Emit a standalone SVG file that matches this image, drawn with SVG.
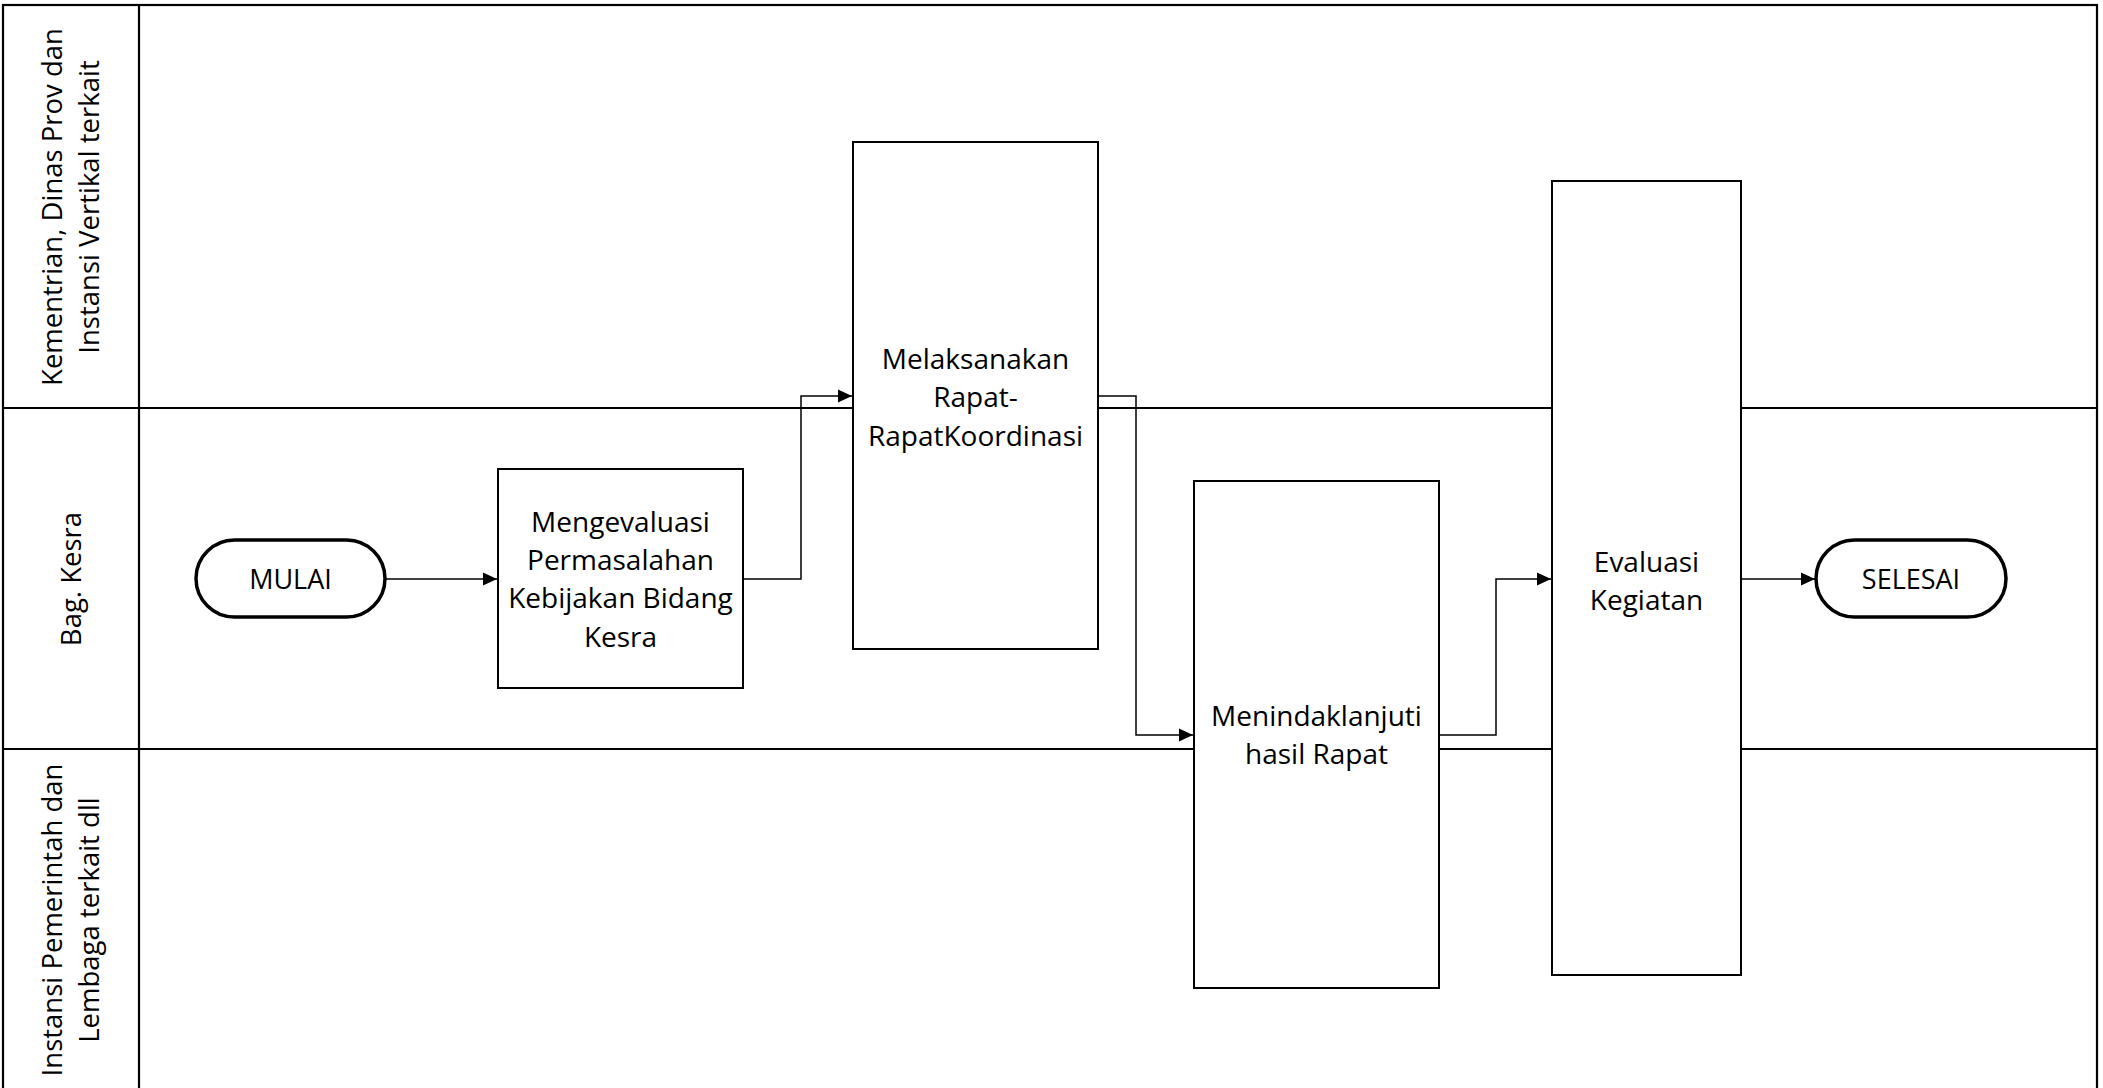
<svg xmlns="http://www.w3.org/2000/svg" width="2103" height="1088" viewBox="0 0 2103 1088">
<style>
.lane{fill:none;stroke:#000;stroke-width:2.2}
.box{fill:#fff;stroke:#000;stroke-width:2}
.term{fill:#fff;stroke:#000;stroke-width:3.5}
.t{font-family:"Open Sans","Liberation Sans",sans-serif;font-size:28px;fill:#000;text-anchor:middle}
.lt{font-family:"Open Sans","Liberation Sans",sans-serif;font-size:27.5px;fill:#000;text-anchor:middle}
.tt{font-family:"Open Sans","Liberation Sans",sans-serif;font-size:27px;fill:#000;text-anchor:middle}
.c{fill:none;stroke:#000;stroke-width:1.5}
</style>
<defs>
<marker id="arr" markerUnits="userSpaceOnUse" markerWidth="15" markerHeight="14" refX="14" refY="7" orient="auto">
<path d="M0,0.5 L14,7 L0,13.5 z" fill="#000"/>
</marker>
</defs>
<rect width="2103" height="1088" fill="#fff"/>
<g id="pool">
<rect class="lane" x="3" y="5" width="2094" height="1086"/>
<line class="lane" x1="139" y1="5" x2="139" y2="1091"/>
<line class="lane" x1="3" y1="408" x2="2097" y2="408"/>
<line class="lane" x1="3" y1="749" x2="2097" y2="749"/>
</g>
<g id="lane1">
<text class="lt" transform="translate(62,207) rotate(-90)">Kementrian, Dinas Prov dan</text>
<text class="lt" transform="translate(99,207) rotate(-90)">Instansi Vertikal terkait</text>
</g>
<g id="lane2">
<text class="lt" transform="translate(81,579) rotate(-90)">Bag. Kesra</text>
</g>
<g id="lane3">
<text class="lt" transform="translate(62,920) rotate(-90)">Instansi Pemerintah dan</text>
<text class="lt" transform="translate(99,920) rotate(-90)">Lembaga terkait dll</text>
</g>
<g id="connectors">
<path class="c" d="M385,579 H497" marker-end="url(#arr)"/>
<path class="c" d="M743,579 H801 V396 H852" marker-end="url(#arr)"/>
<path class="c" d="M1098,396 H1136 V735 H1193" marker-end="url(#arr)"/>
<path class="c" d="M1439,735 H1496 V579 H1551" marker-end="url(#arr)"/>
<path class="c" d="M1741,579 H1815" marker-end="url(#arr)"/>
</g>
<g id="mulai">
<rect class="term" x="196" y="540" width="189" height="77" rx="38.5"/>
<text class="tt" x="290.5" y="589">MULAI</text>
</g>
<g id="mengevaluasi">
<rect class="box" x="498" y="469" width="245" height="219"/>
<text class="t" x="620.5" y="532">Mengevaluasi</text>
<text class="t" x="620.5" y="570">Permasalahan</text>
<text class="t" x="620.5" y="608">Kebijakan Bidang</text>
<text class="t" x="620.5" y="647">Kesra</text>
</g>
<g id="melaksanakan">
<rect class="box" x="853" y="142" width="245" height="507"/>
<text class="t" x="975.5" y="369">Melaksanakan</text>
<text class="t" x="975.5" y="407">Rapat-</text>
<text class="t" x="975.5" y="446">RapatKoordinasi</text>
</g>
<g id="menindaklanjuti">
<rect class="box" x="1194" y="481" width="245" height="507"/>
<text class="t" x="1316.5" y="726">Menindaklanjuti</text>
<text class="t" x="1316.5" y="764">hasil Rapat</text>
</g>
<g id="evaluasi">
<rect class="box" x="1552" y="181" width="189" height="794"/>
<text class="t" x="1646.5" y="572">Evaluasi</text>
<text class="t" x="1646.5" y="610">Kegiatan</text>
</g>
<g id="selesai">
<rect class="term" x="1816" y="540" width="190" height="77" rx="38.5"/>
<text class="tt" x="1911" y="589">SELESAI</text>
</g>
</svg>
